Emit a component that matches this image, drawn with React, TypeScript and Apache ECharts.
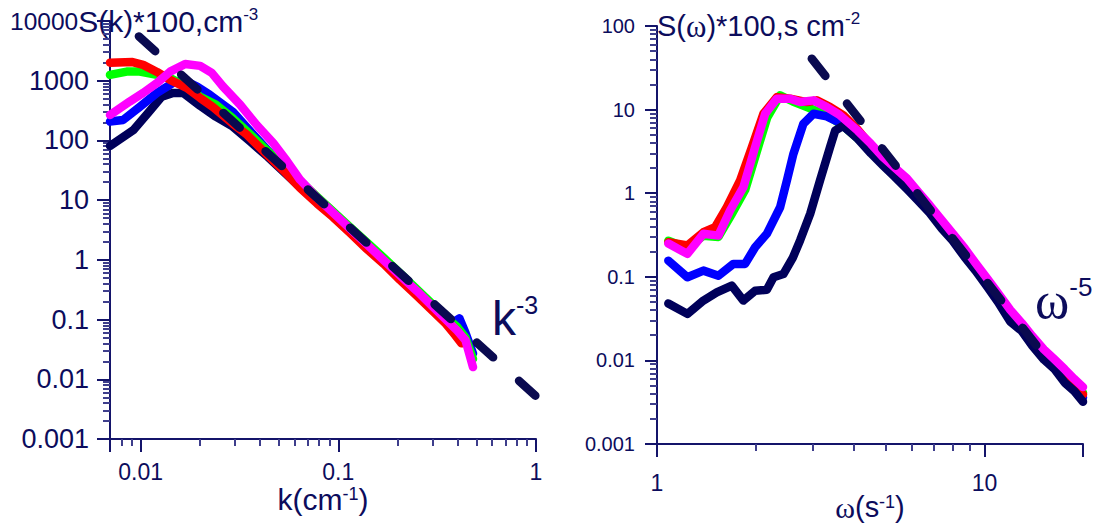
import React, { useEffect, useRef } from 'react';
import * as echarts from 'echarts';

// ---- Wavenumber spectra, S(k)*100 ----
const kNavy = [0.007, 0.0092, 0.0109, 0.0128, 0.0146, 0.0164, 0.02, 0.024, 0.0293, 0.036, 0.044, 0.054, 0.064, 0.078, 0.094, 0.115, 0.14, 0.17, 0.205, 0.25, 0.3, 0.35, 0.4, 0.45];
const sNavy = [81, 150, 289, 542, 625, 625, 380, 250, 170, 95, 53, 28, 16.5, 9.2, 5.4, 2.9, 1.6, 0.9, 0.5, 0.28, 0.16, 0.1, 0.068, 0.045];

const kBlue = [0.007, 0.00815, 0.0099, 0.0121, 0.0146, 0.0164, 0.0193, 0.0224, 0.0293, 0.036, 0.044, 0.054, 0.064, 0.078, 0.094, 0.115, 0.14, 0.17, 0.205, 0.25, 0.3, 0.35, 0.37, 0.41, 0.44, 0.48];
const sBlue = [207, 220, 364, 625, 918, 1031, 800, 580, 300, 140, 68, 34, 18, 10, 5.8, 3.1, 1.7, 0.95, 0.53, 0.29, 0.165, 0.1, 0.085, 0.105, 0.06, 0.027];

const kGreen = [0.007, 0.0085, 0.0099, 0.0121, 0.0141, 0.017, 0.02, 0.024, 0.0293, 0.036, 0.044, 0.054, 0.064, 0.078, 0.094, 0.115, 0.14, 0.17, 0.205, 0.25, 0.3, 0.35, 0.4, 0.44, 0.48];
const sGreen = [1250, 1420, 1420, 1250, 1115, 800, 540, 400, 235, 125, 66, 36, 21, 11.5, 6.5, 3.5, 1.95, 1.08, 0.6, 0.32, 0.18, 0.11, 0.075, 0.05, 0.022];

const kRed = [0.007, 0.0091, 0.0103, 0.0121, 0.0141, 0.0171, 0.02, 0.0232, 0.0293, 0.0345, 0.044, 0.054, 0.064, 0.078, 0.094, 0.115, 0.14, 0.17, 0.205, 0.25, 0.3, 0.35, 0.39, 0.42];
const sRed = [2000, 2050, 1840, 1400, 1030, 757, 515, 364, 190, 125, 56, 29, 16, 8.8, 5.2, 2.8, 1.5, 0.85, 0.46, 0.25, 0.14, 0.085, 0.055, 0.04];

const kMagenta = [0.007, 0.0088, 0.0103, 0.0121, 0.0141, 0.0168, 0.02, 0.0229, 0.0261, 0.0318, 0.0387, 0.0468, 0.055, 0.064, 0.078, 0.094, 0.115, 0.14, 0.17, 0.205, 0.25, 0.3, 0.35, 0.4, 0.44, 0.48];
const sMagenta = [267, 447, 625, 918, 1420, 1910, 1770, 1352, 800, 400, 180, 91, 45, 22, 11, 6.2, 3.3, 1.8, 0.98, 0.55, 0.3, 0.165, 0.1, 0.065, 0.045, 0.016];

// k^-3 reference slope
const kSlopeX = [0.0098, 1];
const kSlopeY = [5525, 0.0052];

// ---- Frequency spectra, S(ω)*100 ----
const wTail = [4.5, 4.9, 5.3, 5.8, 6.3, 6.8, 7.4, 8.0, 8.7, 9.4, 10.2, 11.0, 12.0, 13.0, 14.0, 15.2, 16.4, 17.6, 18.8, 20];

const wNavy = [1.083, 1.238, 1.386, 1.522, 1.692, 1.836, 1.994, 2.165, 2.269, 2.432, 2.6, 2.736, 2.937, 3.148, 3.378, 3.5, 3.7, 4.1, ...wTail];
const sNavy2 = [0.048, 0.036, 0.052, 0.065, 0.0785, 0.052, 0.068, 0.07, 0.0987, 0.108, 0.17, 0.273, 0.567, 1.43, 3.56, 5.6, 6.4, 4.5,
  3.0, 2.15, 1.6, 1.12, 0.8, 0.58, 0.38, 0.27, 0.172, 0.118, 0.076, 0.05, 0.029, 0.0225, 0.015, 0.0102, 0.0078, 0.0054, 0.0043, 0.0032];

const wBlue = [1.083, 1.238, 1.386, 1.54, 1.711, 1.858, 1.994, 2.165, 2.377, 2.493, 2.61, 2.8, 3.006, 3.3, 3.6, 4.0, ...wTail];
const sBlue2 = [0.156, 0.0987, 0.1186, 0.103, 0.1426, 0.1426, 0.2255, 0.3266, 0.679, 1.42, 2.96, 6.78, 8.93, 8.3, 7.0, 5.0,
  3.2, 2.3, 1.7, 1.25, 0.88, 0.62, 0.42, 0.29, 0.19, 0.125, 0.082, 0.055, 0.034, 0.024, 0.0165, 0.0115, 0.0084, 0.0062, 0.0047, 0.0036];

const wGreen = [1.083, 1.238, 1.386, 1.54, 1.69, 1.86, 2.02, 2.17, 2.377, 2.6, 2.87, 3.1, 3.38, 3.7, 4.08, ...wTail];
const sGreen2 = [0.27, 0.22, 0.31, 0.3, 0.56, 1.1, 3.2, 8.0, 14.8, 12.5, 10.7, 9.5, 8.1, 6.4, 4.6,
  3.3, 2.4, 1.8, 1.35, 0.95, 0.66, 0.45, 0.31, 0.205, 0.135, 0.09, 0.06, 0.038, 0.026, 0.0178, 0.0124, 0.009, 0.0067, 0.0052, 0.0041];

const wRed = [1.083, 1.238, 1.386, 1.505, 1.634, 1.794, 1.949, 2.114, 2.323, 2.551, 2.87, 3.077, 3.38, 3.71, 4.08, ...wTail];
const sRed2 = [0.259, 0.2365, 0.341, 0.392, 0.679, 1.42, 3.56, 8.93, 14.1, 13.5, 12.3, 12.9, 10.7, 8.53, 5.9,
  3.7, 2.6, 1.9, 1.4, 0.97, 0.68, 0.46, 0.31, 0.2, 0.135, 0.088, 0.06, 0.037, 0.026, 0.018, 0.0125, 0.0092, 0.0068, 0.0052, 0.0039];

const wMagenta = [1.083, 1.238, 1.386, 1.54, 1.672, 1.836, 1.994, 2.14, 2.323, 2.551, 2.736, 3.006, 3.3, 3.6, 4.1, ...wTail];
const sMagenta2 = [0.25, 0.188, 0.327, 0.311, 0.621, 1.18, 3.56, 8.93, 13.5, 13.5, 12.3, 12.9, 10.7, 8.7, 5.6,
  3.9, 2.7, 2.05, 1.5, 1.02, 0.72, 0.48, 0.33, 0.22, 0.145, 0.095, 0.064, 0.04, 0.028, 0.0195, 0.0135, 0.0102, 0.0078, 0.006, 0.0048];

// ω^-5 reference slope
const wSlopeX = [2.97, 14.5];
const wSlopeY = [40.7, 0.0147];

// Axis extents
const kRange = [0.007, 1];
const skRange = [0.001, 10000];
const wRange = [1, 20];
const swRange = [0.001, 100];

const SANS = '"Liberation Sans", Arial, sans-serif';
const SERIF = '"Liberation Serif", "Times New Roman", serif';
const INK = '#0c0c5c';
const AXIS = '#14146a';
const MINOR = '#3e3e8c';
const C_NAVY = '#00005a';
const C_BLUE = '#0000ff';
const C_GREEN = '#00ff00';
const C_RED = '#ff0000';
const C_MAGENTA = '#ff00ff';
const LINE_W = 8.5;

const pairs = (xs: number[], ys: number[]) => xs.map((x, i) => [x, ys[i]]);

const curve = (color: string, xs: number[], ys: number[], gi: number, z: number) => ({
  type: 'line',
  xAxisIndex: gi,
  yAxisIndex: gi,
  data: pairs(xs, ys),
  symbol: 'none',
  showSymbol: false,
  lineStyle: { color, width: LINE_W, cap: 'round', join: 'round' },
  z,
  silent: true,
});

const slope = (xs: number[], ys: number[], gi: number) => ({
  type: 'line',
  xAxisIndex: gi,
  yAxisIndex: gi,
  data: pairs(xs, ys),
  symbol: 'none',
  showSymbol: false,
  clip: false,
  lineStyle: { color: '#0a0a50', width: 8.5, type: [22, 35], cap: 'round' },
  z: 10,
  silent: true,
});

const decadeLabel = (v: number) => {
  const e = Math.log10(v);
  return Math.abs(e - Math.round(e)) < 1e-6 ? String(Number(v.toPrecision(6))) : '';
};

// Log axis with decade labels, long decade ticks and short 2..9 minor ticks
const logAxis = (gi: number, range: number[], labelSize: number, margin: number, extra: any = {}) => ({
  type: 'log',
  logBase: 10,
  gridIndex: gi,
  min: range[0],
  max: range[1],
  axisLine: { show: true, onZero: false, lineStyle: { color: AXIS, width: 2 } },
  axisTick: { show: true, length: 13, inside: false, lineStyle: { color: AXIS, width: 2 } },
  minorTick: { show: true, splitNumber: 9, length: 7, lineStyle: { color: MINOR, width: 2 } },
  splitLine: { show: false },
  axisLabel: { fontFamily: SANS, fontSize: labelSize, color: INK, margin, formatter: decadeLabel },
  nameMoveOverlap: false,
  ...extra,
});

export default function App() {
  const ref = useRef<HTMLDivElement>(null);

  useEffect(() => {
    document.body.style.margin = '0';
    if (!ref.current) return;
    const chart = echarts.init(ref.current, undefined, { renderer: 'svg' });

    const option: any = {
      animation: false,
      grid: [
        { left: 110, top: 21, width: 426, height: 418, outerBoundsMode: 'none' },
        { left: 657, top: 26, width: 426, height: 418, outerBoundsMode: 'none' },
      ],
      xAxis: [
        logAxis(0, kRange, 23, 21, {
          name: '{n|k(cm}{s|-1}{n|)}',
          nameLocation: 'middle',
          nameGap: 46,
          nameTextStyle: {
            rich: {
              n: { fontFamily: SANS, fontSize: 30, color: INK, lineHeight: 28 },
              s: { fontFamily: SANS, fontSize: 18, color: INK, verticalAlign: 'top', lineHeight: 16 },
            },
          },
        }),
        logAxis(1, wRange, 23, 27, {
          name: '{w|ω}{n|(s}{s|-1}{n|)}',
          nameLocation: 'middle',
          nameGap: 49,
          nameTextStyle: {
            rich: {
              w: { fontFamily: SERIF, fontSize: 30, color: INK, lineHeight: 28 },
              n: { fontFamily: SANS, fontSize: 29, color: INK, lineHeight: 28 },
              s: { fontFamily: SANS, fontSize: 18, color: INK, verticalAlign: 'top', lineHeight: 16 },
            },
          },
        }),
      ],
      yAxis: [
        logAxis(0, skRange, 27, 21, {
          axisLabel: {
            fontFamily: SANS, fontSize: 27, color: INK, margin: 21,
            formatter: (v: number) => (v >= 9999 ? '' : decadeLabel(v)),
          },
        }),
        logAxis(1, swRange, 20, 22, { axisTick: { show: true, length: 12, lineStyle: { color: AXIS, width: 2 } } }),
      ],
      graphic: [
        {
          type: 'text', left: 10, top: 6, silent: true,
          style: {
            text: '{d|10000}{n|S(k)*100,cm}{s|-3}',
            rich: {
              d: { fontFamily: SANS, fontSize: 24.5, fill: INK, lineHeight: 30 },
              n: { fontFamily: SANS, fontSize: 30, fill: INK, lineHeight: 30 },
              s: { fontFamily: SANS, fontSize: 17, fill: INK, verticalAlign: 'top', lineHeight: 17 },
            },
          },
        },
        {
          type: 'text', left: 657, top: 10, silent: true,
          style: {
            text: '{n|S(}{w|ω}{n|)*100,s cm}{s|-2}',
            rich: {
              n: { fontFamily: SANS, fontSize: 29, fill: INK, lineHeight: 32 },
              w: { fontFamily: SERIF, fontSize: 31, fill: INK, lineHeight: 32 },
              s: { fontFamily: SANS, fontSize: 17, fill: INK, verticalAlign: 'top', lineHeight: 17 },
            },
          },
        },
        {
          type: 'text', left: 492, top: 292, silent: true,
          style: {
            text: '{n|k}{s|-3}',
            rich: {
              n: { fontFamily: SANS, fontSize: 48, fill: INK, lineHeight: 52 },
              s: { fontFamily: SANS, fontSize: 25, fill: INK, verticalAlign: 'top', lineHeight: 25 },
            },
          },
        },
        {
          type: 'text', left: 1035, top: 274, silent: true,
          style: {
            text: '{n|ω}{s|-5}',
            rich: {
              n: { fontFamily: SERIF, fontSize: 52, fill: INK, lineHeight: 52 },
              s: { fontFamily: SANS, fontSize: 26, fill: INK, verticalAlign: 'top', lineHeight: 26 },
            },
          },
        },
      ],
      series: [
        curve(C_NAVY, kNavy, sNavy, 0, 2),
        curve(C_BLUE, kBlue, sBlue, 0, 3),
        curve(C_GREEN, kGreen, sGreen, 0, 4),
        curve(C_RED, kRed, sRed, 0, 5),
        curve(C_MAGENTA, kMagenta, sMagenta, 0, 6),
        slope(kSlopeX, kSlopeY, 0),
        curve(C_GREEN, wGreen, sGreen2, 1, 2),
        curve(C_BLUE, wBlue, sBlue2, 1, 3),
        curve(C_RED, wRed, sRed2, 1, 4),
        curve(C_NAVY, wNavy, sNavy2, 1, 5),
        curve(C_MAGENTA, wMagenta, sMagenta2, 1, 6),
        slope(wSlopeX, wSlopeY, 1),
      ],
    };

    chart.setOption(option);
    return () => chart.dispose();
  }, []);

  return <div ref={ref} style={{ width: 1097, height: 526 }} />;
}
